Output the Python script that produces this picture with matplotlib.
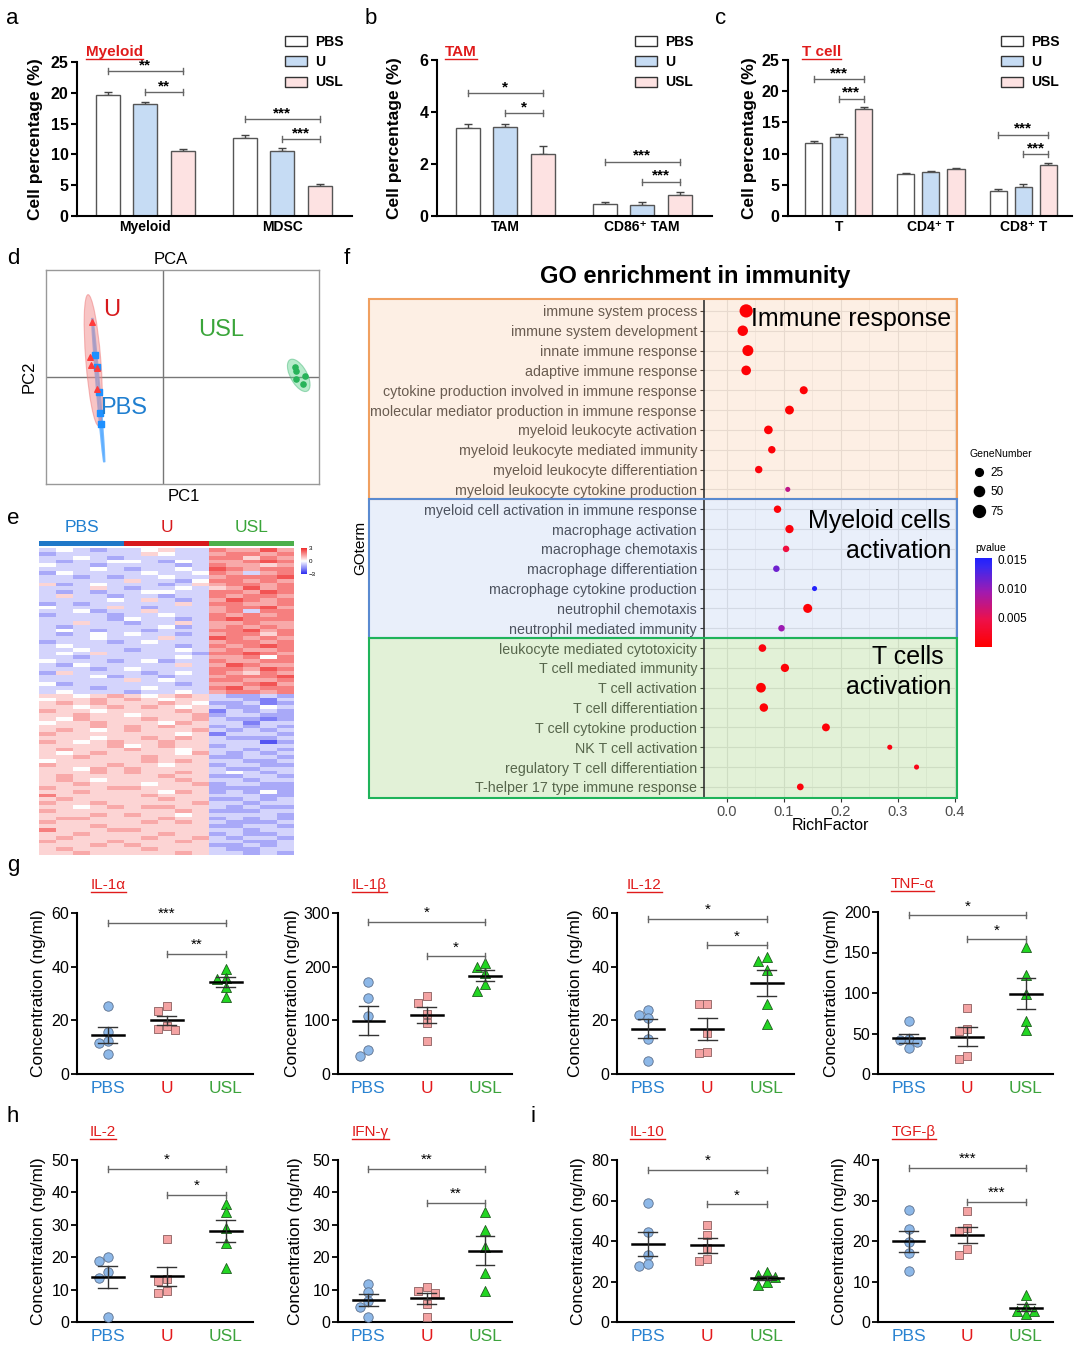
import numpy as np
import matplotlib
matplotlib.use("Agg")
import matplotlib.pyplot as plt
import matplotlib.transforms as mtransforms
from matplotlib.patches import Rectangle, Ellipse, Patch
from matplotlib.lines import Line2D
from matplotlib.colors import LinearSegmentedColormap, ListedColormap, Normalize
from matplotlib.cm import ScalarMappable

plt.rcParams['font.family'] = ['Liberation Sans', 'DejaVu Sans']

# ---------------- data ----------------
groups = ['PBS', 'U', 'USL']

# a-c: bar charts (rows = category, cols = PBS, U, USL)
myeloid_cats = ['Myeloid', 'MDSC']
myeloid_mean = [[19.7, 18.2, 10.6], [12.7, 10.5, 4.95]]
myeloid_sem = [[0.45, 0.3, 0.35], [0.5, 0.55, 0.25]]
myeloid_sig = [(0, 0, 2, 23.5, '**'), (0, 1, 2, 20.1, '**'),
               (1, 0, 2, 15.7, '***'), (1, 1, 2, 12.5, '***')]

tam_cats = ['TAM', 'CD86\u207a TAM']
tam_mean = [[3.37, 3.44, 2.37], [0.48, 0.42, 0.81]]
tam_sem = [[0.16, 0.1, 0.33], [0.05, 0.13, 0.13]]
tam_sig = [(0, 0, 2, 4.72, '*'), (0, 1, 2, 3.95, '*'),
           (1, 0, 2, 2.09, '***'), (1, 1, 2, 1.32, '***')]

tcell_cats = ['T', 'CD4\u207a T', 'CD8\u207a T']
tcell_mean = [[11.65, 12.6, 17.1], [6.8, 7.05, 7.6], [4.0, 4.65, 8.1]]
tcell_sem = [[0.35, 0.5, 0.3], [0.15, 0.2, 0.15], [0.3, 0.45, 0.45]]
tcell_sig = [(0, 0, 2, 21.9, '***'), (0, 1, 2, 18.8, '***'),
             (2, 0, 2, 13.0, '***'), (2, 1, 2, 9.9, '***')]

# d: PCA scores
pc_u_x = [-26.3, -26.9, -26.5, -24.2, -24.5]
pc_u_y = [15.4, 5.5, 3.4, 2.6, -3.3]
pc_pbs_x = [-25.2, -24.3, -23.7, -23.2, -22.9]
pc_pbs_y = [6.2, 2.8, -4.1, -10.1, -13.2]
pc_usl_x = [48.1, 48.5, 51.8, 48.5, 51.0]
pc_usl_y = [2.8, 1.6, 0.4, -0.5, -2.0]

# e: heatmap, z-score levels 0..8 (4 = 0); 5 PBS, 5 U, 5 USL columns
heat_rows = [
    '343233453376686', '233333543367767', '334323333377576', '323344324366787',
    '433233332376656', '333432334387677', '243333433476367', '332323343367778',
    '333335332477676', '523433323567767', '333532334356867', '323233443377687',
    '353323323376776', '333343532368767', '232333335377667', '433353233367786',
    '334233533367377', '233323343376767', '333324332378777', '335332335366766',
    '323333342367676', '343233233377867', '323434332367757', '333433353387676',
    '233323433367767', '343333332376787', '334332334367667', '343533333277876',
    '332333334366747', '433323423376677', '324333335368766', '333234333377687',
    '253333234376576', '333423323367778', '333335343377667', '423333332366786',
    '333233433378677', '343332334367767',
    '554565456532232', '455656545533213', '565655565422312', '554565654532243',
    '655455556513232', '556554555623322', '546555655632212', '455655546533133',
    '555656565523232', '565456555632323', '655555554513332', '555455656532223',
    '654565565533302', '555564565523333', '565556554533232', '545655554632323',
    '556555655522332', '455555656533223', '655565545523322', '554656555532233',
    '555656556534323', '565555565522332', '565455556533233', '556555455623322',
    '655566555522222', '556555546523242', '755555655533322', '565555565522323',
    '655655555633233', '554565665532322', '655555556522233', '555656554533332',
    '566555565523232', '655555656532223', '555655555522332', '755566555533233',
    '556555565523223', '565555655632332', '655565556533223', '555656555522323',
    '565555655532233', '556555556533232',
]

# f: GO enrichment
go_terms = ['immune system process', 'immune system development', 'innate immune response',
            'adaptive immune response', 'cytokine production involved in immune response',
            'molecular mediator production in immune response', 'myeloid leukocyte activation',
            'myeloid leukocyte mediated immunity', 'myeloid leukocyte differentiation',
            'myeloid leukocyte cytokine production', 'myeloid cell activation in immune response',
            'macrophage activation', 'macrophage chemotaxis', 'macrophage differentiation',
            'macrophage cytokine production', 'neutrophil chemotaxis', 'neutrophil mediated immunity',
            'leukocyte mediated cytotoxicity', 'T cell mediated immunity', 'T cell activation',
            'T cell differentiation', 'T cell cytokine production', 'NK T cell activation',
            'regulatory T cell differentiation', 'T-helper 17 type immune response']
rich_factor = [0.034, 0.028, 0.037, 0.034, 0.135, 0.110, 0.073, 0.079, 0.056, 0.107,
               0.089, 0.110, 0.104, 0.087, 0.154, 0.142, 0.096,
               0.0625, 0.102, 0.060, 0.065, 0.174, 0.286, 0.333, 0.129]
gene_number = [95, 55, 62, 45, 28, 36, 34, 22, 22, 4,
               22, 30, 14, 14, 4, 38, 14,
               24, 30, 46, 32, 26, 4, 4, 16]
p_value = [0.0002, 0.0003, 0.0002, 0.0004, 0.0003, 0.0002, 0.0003, 0.0006, 0.0008, 0.0075,
           0.0005, 0.0008, 0.004, 0.0115, 0.0150, 0.0004, 0.0095,
           0.0009, 0.0005, 0.0002, 0.0004, 0.0005, 0.0012, 0.0015, 0.0008]
section_sizes = [10, 7, 8]

# g-i: cytokine concentrations (ng/ml), PBS / U / USL
il1a = [[25.3, 15.6, 12.2, 11.6, 7.6], [25.2, 23.4, 17.8, 16.5, 16.9], [39.3, 35.5, 35.8, 32.4, 28.7]]
il1a_sig = [(0, 2, 56.4, '***'), (1, 2, 44.8, '**')]
il1b = [[171, 142, 107.5, 44, 33], [145, 133, 112, 95, 61], [207, 199, 188, 167, 154]]
il1b_sig = [(0, 2, 283, '*'), (1, 2, 219, '*')]
il12 = [[23.7, 20.7, 22.1, 13.2, 4.8], [26.2, 26.2, 15.3, 7.8, 8.2], [43.6, 42.1, 38.6, 26.2, 18.5]]
il12_sig = [(0, 2, 57.9, '*'), (1, 2, 47.9, '*')]
tnfa = [[65.4, 42.8, 41.6, 39.5, 32.1], [81.5, 56.0, 53.1, 21.8, 18.1], [156.8, 122.6, 98.4, 65.0, 53.9]]
tnfa_sig = [(0, 2, 195.9, '*'), (1, 2, 166.3, '*')]
il2 = [[20.2, 18.7, 15.3, 13.6, 1.5], [25.7, 13.3, 12.7, 8.9, 9.7], [36.4, 33.9, 29.0, 24.3, 16.8]]
il2_sig = [(0, 2, 47.2, '*'), (1, 2, 39.2, '*')]
ifng = [[11.8, 9.4, 6.4, 4.6, 1.5], [10.7, 9.7, 8.9, 5.6, 1.5], [34.0, 28.5, 23.0, 15.0, 9.6]]
ifng_sig = [(0, 2, 47.2, '**'), (1, 2, 36.7, '**')]
il10 = [[58.9, 44.2, 33.0, 27.6, 28.5], [48.1, 43.2, 36.6, 30.1, 30.9], [24.9, 23.2, 22.4, 20.0, 18.3]]
il10_sig = [(0, 2, 75.3, '*'), (1, 2, 58.1, '*')]
tgfb = [[27.7, 23.0, 19.7, 17.0, 12.5], [27.3, 23.2, 22.5, 18.1, 16.6], [6.7, 4.0, 2.6, 2.6, 2.0]]
tgfb_sig = [(0, 2, 38.1, '***'), (1, 2, 29.7, '***')]

# ---------------- figure helpers ----------------
W, H = 1080, 1359
fig = plt.figure(figsize=(W / 100, H / 100), dpi=100)
RED = '#e01b1b'
underlined = []


def add_ax(l, t, r, b):
    return fig.add_axes([l / W, 1 - b / H, (r - l) / W, (b - t) / H])


def ftext(x, y, s, **kw):
    return fig.text(x / W, 1 - y / H, s, **kw)


def red_title(x, y, s, size, bold=False):
    t = ftext(x, y, s, color=RED, fontsize=size, fontweight='bold' if bold else 'normal',
              ha='left', va='center')
    underlined.append(t)


def bracket(ax, x1, x2, y, label, ymax, hpx, size, bold, up_px):
    d = 3.0 / hpx * ymax
    kw = dict(color='#666666', lw=1.0, clip_on=False, zorder=5)
    ax.plot([x1, x2], [y, y], **kw)
    ax.plot([x1, x1], [y - d, y + d], **kw)
    ax.plot([x2, x2], [y - d, y + d], **kw)
    ax.text((x1 + x2) / 2, y + up_px / hpx * ymax, label, ha='center', va='center',
            fontsize=size, fontweight='bold' if bold else 'normal', clip_on=False)


def style_axes(ax):
    for s in ['top', 'right']:
        ax.spines[s].set_visible(False)
    for s in ['left', 'bottom']:
        ax.spines[s].set_linewidth(1.5)


# ---------------- a-c: bar charts ----------------
bar_fill = ['white', '#c6dcf4', '#fde2e2']


def bar_panel(box, cats, means, sems, sig, ymax, ystep, step, width, xlim, label_px):
    ax = add_ax(*box)
    hpx = box[3] - box[1]
    x = np.arange(len(cats))
    for j in range(3):
        xs = x + (j - 1) * step
        vals = [m[j] for m in means]
        errs = [e[j] for e in sems]
        ax.bar(xs, vals, width, color=bar_fill[j], edgecolor='#555555', linewidth=1.0, zorder=2)
        ax.errorbar(xs, vals, yerr=[np.zeros(len(vals)), errs], fmt='none', ecolor='#444444',
                    elinewidth=1.0, capsize=3, capthick=1.0, zorder=1)
    for c, a, b, y, lab in sig:
        bracket(ax, c + (a - 1) * step, c + (b - 1) * step, y, lab, ymax, hpx, 11, True, 6)
    ax.set_xlim(*xlim)
    ax.set_ylim(0, ymax)
    ax.set_yticks(np.arange(0, ymax + 0.01, ystep))
    ax.set_xticks(x)
    ax.set_xticklabels(cats, fontsize=10, fontweight='bold')
    ax.tick_params(axis='x', length=0, pad=3)
    ax.tick_params(axis='y', length=4, width=1.5, labelsize=11.5, pad=2)
    for t in ax.get_yticklabels():
        t.set_fontweight('bold')
    ax.set_ylabel('Cell percentage (%)', fontsize=12.5, fontweight='bold')
    ax.yaxis.set_label_coords(label_px / (box[2] - box[0]), 0.5)
    style_axes(ax)
    return ax


axa = bar_panel((77, 62, 352, 216), myeloid_cats, myeloid_mean, myeloid_sem, myeloid_sig,
                25, 5, 0.274, 0.175, (-0.5, 1.51), -34)
axb = bar_panel((437, 60, 712, 216), tam_cats, tam_mean, tam_sem, tam_sig,
                6, 2, 0.274, 0.175, (-0.5, 1.51), -35)
axc = bar_panel((788, 60, 1072, 216), tcell_cats, tcell_mean, tcell_sem, tcell_sig,
                25, 5, 0.272, 0.185, (-0.55, 2.53), -31)

legend_handles = [Patch(facecolor=c, edgecolor='#333333', linewidth=1.0) for c in bar_fill]
for ax, lx in [(axa, 285), (axb, 635), (axc, 1001)]:
    ax.legend(legend_handles, groups, loc='upper left', bbox_to_anchor=(lx / W, 1 - 35 / H),
              bbox_transform=fig.transFigure, frameon=False, handlelength=1.6, handleheight=0.75,
              labelspacing=0.45, handletextpad=0.6, borderaxespad=0, borderpad=0,
              prop={'weight': 'bold', 'size': 10})

red_title(86, 52, 'Myeloid', 11, True)
red_title(445, 52, 'TAM', 11, True)
red_title(802, 52, 'T cell', 11, True)

# ---------------- d: PCA ----------------
axd = add_ax(46, 270, 319, 484)
axd.set_xlim(-43, 57)
axd.set_ylim(-30, 30)
axd.axhline(0, color='#777777', lw=1.0, zorder=1)
axd.axvline(0, color='#777777', lw=1.0, zorder=1)


def conf_ellipse(x, y, k, **kw):
    cov = np.cov(x, y)
    vals, vecs = np.linalg.eigh(cov)
    ang = np.degrees(np.arctan2(vecs[1, -1], vecs[0, -1]))
    return Ellipse((np.mean(x), np.mean(y)), 2 * k * np.sqrt(vals[-1]), 2 * k * np.sqrt(max(vals[0], 1e-3)),
                   angle=ang, **kw)


axd.add_patch(conf_ellipse(pc_pbs_x, pc_pbs_y, 2.45, facecolor='#66b3ff', edgecolor='#55aaff',
                           lw=1.5, alpha=0.8, zorder=2))
axd.add_patch(conf_ellipse(pc_u_x, pc_u_y, 2.7, facecolor='#f28c8c', edgecolor='#ee7777',
                           lw=0.8, alpha=0.5, zorder=2))
axd.add_patch(conf_ellipse(pc_usl_x, pc_usl_y, 2.45, facecolor='#5fd38d', edgecolor='#3cb371',
                           lw=0.8, alpha=0.45, zorder=2))
axd.scatter(pc_pbs_x, pc_pbs_y, marker='s', s=14, color='#1e90ff', zorder=3)
axd.scatter(pc_u_x, pc_u_y, marker='^', s=16, color='#ff3b3b', zorder=3)
axd.scatter(pc_usl_x, pc_usl_y, marker='o', s=14, color='#27b35a', zorder=3)
axd.text(-19, 18.8, 'U', color='#d7191c', fontsize=17, ha='center', va='center')
axd.text(21.3, 13.2, 'USL', color='#3aa53a', fontsize=17, ha='center', va='center')
axd.text(-14.7, -8.7, 'PBS', color='#1f7fd0', fontsize=17, ha='center', va='center')
axd.set_xticks([])
axd.set_yticks([])
for s in axd.spines.values():
    s.set_color('#999999')
    s.set_linewidth(1.0)
ftext(171, 260, 'PCA', fontsize=12, ha='center', va='center')
ftext(184, 497, 'PC1', fontsize=12, ha='center', va='center')
ftext(29, 377, 'PC2', fontsize=12, ha='center', va='center', rotation=90)

# ---------------- e: heatmap ----------------
heat = (np.array([[int(c) for c in r] for r in heat_rows]) - 4) * 0.6
heat_cmap = LinearSegmentedColormap.from_list('heat', ['#2b2bf0', '#ffffff', '#f02b2b'])
axe = add_ax(39, 548, 294, 855)
axe.imshow(heat, aspect='auto', cmap=heat_cmap, vmin=-3, vmax=3, interpolation='nearest')
axe.set_xticks([])
axe.set_yticks([])
for s in axe.spines.values():
    s.set_visible(False)
axg = add_ax(39, 541, 294, 546)
axg.imshow(np.repeat(np.arange(3), 5)[None, :], aspect='auto',
           cmap=ListedColormap(['#1f78c8', '#d7191c', '#4daf4a']), interpolation='nearest')
axg.axis('off')
for k, (g, c) in enumerate(zip(groups, ['#1f7fd0', '#d7191c', '#3aa53a'])):
    ftext(39 + 255 * (2 * k + 1) / 6, 527, g, color=c, fontsize=12.5, ha='center', va='center')
axhc = add_ax(301, 548, 307, 574)
hcb = fig.colorbar(ScalarMappable(norm=Normalize(-3, 3), cmap=heat_cmap), cax=axhc)
hcb.outline.set_visible(False)
hcb.set_ticks([-3, 0, 3])
hcb.ax.tick_params(labelsize=4.5, length=0, pad=1)

# ---------------- f: GO enrichment ----------------
axf = add_ax(704, 299, 957, 798)
n_terms = len(go_terms)
rows = np.arange(n_terms)
axf.set_xlim(-0.04, 0.404)
axf.set_ylim(n_terms - 0.44, -0.6)
axf.set_facecolor('white')
axf.set_xticks([0.0, 0.1, 0.2, 0.3, 0.4])
axf.set_xticks([0.05, 0.15, 0.25, 0.35], minor=True)
axf.set_yticks(rows)
axf.set_yticklabels(go_terms, fontsize=10.3, color='#4d4d4d')
axf.grid(True, which='major', color='#e6e6e6', lw=0.8)
axf.grid(True, which='minor', axis='x', color='#eeeeee', lw=0.5)
axf.set_axisbelow(True)
axf.tick_params(axis='both', which='major', length=3, color='#333333', width=0.8)
axf.tick_params(axis='x', which='major', labelsize=10.5, labelcolor='#4d4d4d', pad=2)
axf.tick_params(axis='x', which='minor', length=0)
axf.tick_params(axis='y', pad=2)
for s in ['top', 'right', 'bottom']:
    axf.spines[s].set_visible(False)
axf.spines['left'].set_color('#333333')
axf.spines['left'].set_linewidth(1.2)

trans = mtransforms.blended_transform_factory(fig.transFigure, axf.transData)
sec_fill = [('#f4a460', 0.17), ('#4f7fdc', 0.12), ('#7cc04a', 0.22)]
sec_edge = ['#f0a060', '#5a8ad0', '#1fb35a']
bounds = np.cumsum(section_sizes)
for k, size in enumerate(section_sizes):
    top = -0.6 if k == 0 else bounds[k - 1] - 0.5
    bottom = bounds[k] - 0.5 if k < len(section_sizes) - 1 else n_terms - 0.44
    rect = Rectangle((369 / W, top), (957 - 369) / W, bottom - top, transform=trans,
                     facecolor=sec_fill[k][0], alpha=sec_fill[k][1], edgecolor='none',
                     clip_on=False, zorder=1)
    axf.add_patch(rect)
    edge = Rectangle((369 / W, top), (957 - 369) / W, bottom - top, transform=trans,
                     fill=False, edgecolor=sec_edge[k], lw=1.5, clip_on=False, zorder=4)
    axf.add_patch(edge)

p_cmap = LinearSegmentedColormap.from_list(
    'p', [(0.0, '#ff0000'), (0.3, '#ee1048'), (0.62, '#a01ab0'), (0.9, '#3a28f0'), (1.0, '#2020ff')])
sizes = 10 + 0.85 * np.array(gene_number)
axf.scatter(rich_factor, rows, s=sizes, c=p_value, cmap=p_cmap, vmin=0, vmax=0.0152,
            edgecolors='none', zorder=5, clip_on=False)
axf.text(0.3935, 0.4, 'Immune response', ha='right', va='center', fontsize=18, zorder=6)
axf.text(0.3935, 10.6, 'Myeloid cells', ha='right', va='center', fontsize=18, zorder=6)
axf.text(0.3935, 12.1, 'activation', ha='right', va='center', fontsize=18, zorder=6)
axf.text(0.381, 17.45, 'T cells', ha='right', va='center', fontsize=18, zorder=6)
axf.text(0.3935, 18.96, 'activation', ha='right', va='center', fontsize=18, zorder=6)
ftext(695, 277, 'GO enrichment in immunity', fontsize=17, fontweight='bold', ha='center', va='center')
ftext(360, 548, 'GOterm', fontsize=11, ha='center', va='center', rotation=90)
ftext(830, 826, 'RichFactor', fontsize=11.5, ha='center', va='center')

size_handles = [Line2D([], [], marker='o', ls='', color='black', markersize=np.sqrt(10 + 0.85 * g))
                for g in [25, 50, 75]]
leg = axf.legend(size_handles, ['25', '50', '75'], title='GeneNumber', loc='upper left',
                 bbox_to_anchor=(970 / W, 1 - 449 / H), bbox_transform=fig.transFigure,
                 frameon=False, fontsize=8.5, title_fontsize=7.5, labelspacing=0.65,
                 handletextpad=0.2, borderaxespad=0, borderpad=0, handlelength=1.5)
leg._legend_box.align = 'left'
ftext(975, 548, 'pvalue', fontsize=7.5, ha='left', va='center')
axpc = add_ax(975, 558, 992, 647)
pcb = fig.colorbar(ScalarMappable(norm=Normalize(0, 0.0152), cmap=p_cmap), cax=axpc)
pcb.outline.set_visible(False)
pcb.set_ticks([0.005, 0.010, 0.015])
pcb.set_ticklabels(['0.005', '0.010', '0.015'])
pcb.ax.tick_params(labelsize=8.5, length=0, pad=4)

# ---------------- g-i: cytokine dot plots ----------------
markers = ['o', 's', '^']
msize = [46, 40, 52]
mfill = ['#8db8e8', '#f4a3a3', '#22d622']
medge = ['#5b6f8c', '#8c5f5f', '#1f5c1f']
tick_colors = ['#2a83d1', '#e31a1c', '#3ca33c']


def swarm(vals, xpx, ypx, diam=7.0, step=8.5):
    order = np.argsort(vals)[::-1]
    placed = []
    offs = np.zeros(len(vals))
    for i in order:
        y = vals[i] * ypx
        x = 0.0
        for k in [0, -1, 1, -2, 2]:
            x = k * step
            if all((x - px) ** 2 + (y - py) ** 2 >= diam ** 2 for px, py in placed):
                break
        placed.append((x, y))
        offs[i] = x / xpx
    return offs


def dot_panel(box, data, ymax, ystep, sig, title, tx, label_px):
    ax = add_ax(*box)
    xlim = (-0.52, 2.46)
    ax.set_xlim(*xlim)
    ax.set_ylim(0, ymax)
    hpx = box[3] - box[1]
    xpx = (box[2] - box[0]) / (xlim[1] - xlim[0])
    ypx = hpx / ymax
    for j in range(3):
        v = np.array(data[j], dtype=float)
        xs = j + swarm(v, xpx, ypx)
        ax.scatter(xs, v, marker=markers[j], s=msize[j], facecolor=mfill[j], edgecolor=medge[j],
                   linewidth=0.6, zorder=3, clip_on=False)
        m = v.mean()
        se = v.std(ddof=1) / np.sqrt(len(v))
        ax.plot([j - 0.27, j + 0.27], [m, m], color='black', lw=1.8, zorder=4)
        ax.plot([j, j], [m - se, m + se], color='#333333', lw=1.0, zorder=4)
        for yy in (m - se, m + se):
            ax.plot([j - 0.16, j + 0.16], [yy, yy], color='#333333', lw=1.0, zorder=4)
    for a, b, y, lab in sig:
        bracket(ax, a, b, y, lab, ymax, hpx, 11, False, 9)
    ax.set_yticks(np.arange(0, ymax + 0.01, ystep))
    ax.set_xticks([0, 1, 2])
    ax.set_xticklabels(groups, fontsize=12.5)
    for t, c in zip(ax.get_xticklabels(), tick_colors):
        t.set_color(c)
    ax.tick_params(axis='x', length=0, pad=5)
    ax.tick_params(axis='y', length=4, width=1.3, labelsize=11.5, pad=1.5)
    ax.set_ylabel('Concentration (ng/ml)', fontsize=12.5)
    ax.yaxis.set_label_coords(label_px / (box[2] - box[0]), 0.5)
    style_axes(ax)
    red_title(tx, box[1] - 28, title, 11)
    return ax


dot_panel((77, 913, 253, 1074), il1a, 60, 20, il1a_sig, 'IL-1\u03b1', 91, -31)
dot_panel((338, 913, 512, 1074), il1b, 300, 100, il1b_sig, 'IL-1\u03b2', 352, -38)
dot_panel((617, 913, 794, 1074), il12, 60, 20, il12_sig, 'IL-12', 627, -34)
dot_panel((878, 912, 1053, 1074), tnfa, 200, 50, tnfa_sig, 'TNF-\u03b1', 891, -39)
dot_panel((77, 1160, 253, 1322), il2, 50, 10, il2_sig, 'IL-2', 90, -31)
dot_panel((338, 1160, 512, 1322), ifng, 50, 10, ifng_sig, 'IFN-\u03b3', 352, -35)
dot_panel((617, 1160, 794, 1322), il10, 80, 20, il10_sig, 'IL-10', 630, -31)
dot_panel((878, 1160, 1053, 1322), tgfb, 40, 10, tgfb_sig, 'TGF-\u03b2', 892, -31)

# ---------------- panel letters ----------------
for lab, x, y in [('a', 12, 18), ('b', 371, 18), ('c', 721, 18), ('d', 13, 259),
                  ('e', 13, 519), ('f', 347, 259), ('g', 13, 866), ('h', 13, 1117), ('i', 533, 1117)]:
    ftext(x, y, lab, fontsize=16, ha='center', va='center')

# underline the red titles
fig.canvas.draw()
renderer = fig.canvas.get_renderer()
for t in underlined:
    bb = t.get_window_extent(renderer)
    yline = (bb.y0 + 0.5) / H
    fig.add_artist(Line2D([bb.x0 / W, bb.x1 / W], [yline, yline], color=RED, lw=1.0,
                          transform=fig.transFigure))

fig.savefig('out.png', dpi=100)
